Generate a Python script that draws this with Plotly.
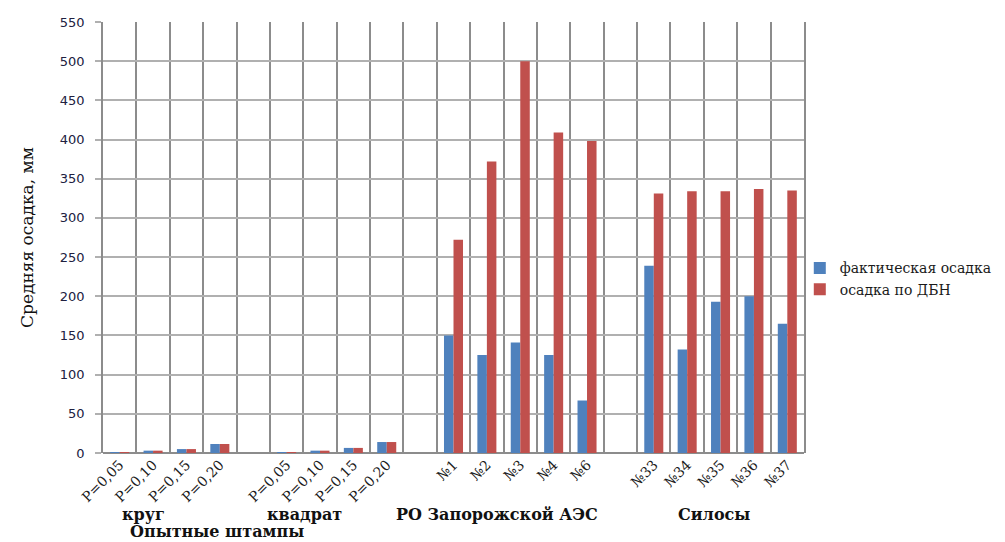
import plotly.graph_objects as go

# categories (blank entries are spacer columns between groups)
tick_labels = ["P=0,05", "P=0,10", "P=0,15", "P=0,20", "",
               "P=0,05", "P=0,10", "P=0,15", "P=0,20", "",
               "№1", "№2", "№3", "№4", "№6", "",
               "№33", "№34", "№35", "№36", "№37"]
actual = [0.5, 3, 5, 11.5, None,
          0.5, 3, 6.5, 14, None,
          150, 125, 141, 125, 67, None,
          239, 132, 193, 200, 165]
dbn = [0.5, 3, 5, 11.5, None,
       0.5, 3, 6.5, 14, None,
       272, 372, 500, 409, 398, None,
       331, 334, 334, 337, 335]
group_labels = ["круг", "квадрат", "РО Запорожской АЭС", "Силосы"]
group_pos = [0.7, 5.55, 11.3, 17.8]
super_label = "Опытные штампы"
super_pos = 2.9

xs = list(range(len(tick_labels)))
serif = "DejaVu Serif"

fig = go.Figure()
fig.add_trace(go.Bar(x=xs, y=actual, name="фактическая осадка",
                     marker=dict(color="#4f81bd", line=dict(width=0))))
fig.add_trace(go.Bar(x=xs, y=dbn, name="осадка по ДБН",
                     marker=dict(color="#c0504d", line=dict(width=0))))

n = len(tick_labels)
fig.update_layout(
    width=1005, height=542,
    margin=dict(l=103, r=201, t=22, b=89, autoexpand=False),
    paper_bgcolor="white", plot_bgcolor="white",
    barmode="group", bargap=0.43, bargroupgap=0,
    showlegend=True,
    legend=dict(x=0.994, xanchor="left", y=0.404, yanchor="middle",
                bgcolor="rgba(0,0,0,0)",
                font=dict(family=serif, size=14, color="#1a1a1a"),
                itemwidth=30, tracegroupgap=2),
    xaxis=dict(range=[-0.5, n - 0.5], tickmode="array", tickvals=xs,
               ticktext=tick_labels, tickangle=-45,
               tickfont=dict(family=serif, size=14, color="#1a1a1a"),
               showgrid=False, zeroline=False, showline=False, ticks="",
               minor=dict(tickmode="array",
                          tickvals=[i - 0.5 for i in range(n + 1)],
                          showgrid=True, gridcolor="#8c8c8c", gridwidth=1.6)),
    yaxis=dict(range=[0, 550], tickmode="linear", tick0=0, dtick=50,
               showgrid=True, gridcolor="#b0b0b0", gridwidth=1.6,
               zeroline=True, zerolinecolor="#8c8c8c", zerolinewidth=1.6,
               showline=True, mirror=True, linecolor="#8c8c8c", linewidth=1.6,
               ticks="outside", ticklen=6, tickcolor="#b0b0b0",
               tickwidth=1.6, ticklabelstandoff=8,
               tickfont=dict(family="DejaVu Sans", size=13, color="#202040"),
               title=dict(text="Средняя осадка, мм", standoff=22,
                          font=dict(family=serif, size=17, color="#111"))),
)

for lab, pos in zip(group_labels, group_pos):
    fig.add_annotation(text="<b>" + lab + "</b>", x=pos, xref="x",
                       y=-0.142, yref="paper", showarrow=False,
                       xanchor="center", yanchor="middle",
                       font=dict(family=serif, size=16, color="#111"))
fig.add_annotation(text="<b>" + super_label + "</b>", x=super_pos, xref="x",
                   y=-0.182, yref="paper", showarrow=False,
                   xanchor="center", yanchor="middle",
                   font=dict(family=serif, size=16, color="#111"))

fig.write_html("out.html")
